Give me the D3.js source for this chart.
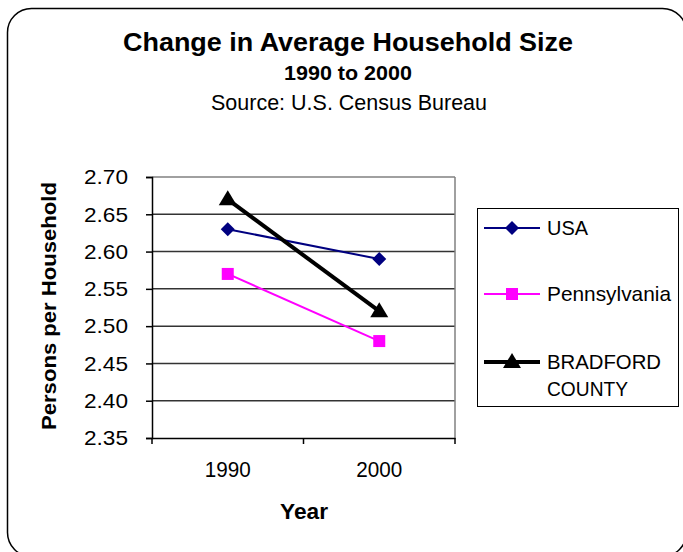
<!DOCTYPE html>
<html>
<head>
<meta charset="utf-8">
<script src="https://cdn.jsdelivr.net/npm/d3@7"></script>
<style>
  body { margin: 0; background: #fff; }
  svg text { font-family: "Liberation Sans", Arial, sans-serif; }
</style>
</head>
<body>
<script>
const years = ["1990", "2000"];
const usa = [2.63, 2.59];
const pennsylvania = [2.57, 2.48];
const bradford = [2.67, 2.52];
const yTicks = [2.35, 2.40, 2.45, 2.50, 2.55, 2.60, 2.65, 2.70];

const series = [
    {name: ["USA"], lens: [41], values: usa, colour: "#000080", width: 2, marker: "diamond"},
    {name: ["Pennsylvania"], lens: [124], values: pennsylvania, colour: "#FF00FF", width: 2, marker: "square"},
    {name: ["BRADFORD", "COUNTY"], lens: [114, 81], values: bradford, colour: "#000000", width: 4, marker: "triangle"}
];

const width = 683, height = 552;
const plot = {left: 152, right: 455, top: 177, bottom: 438};

const svg = d3.select("body").append("svg")
    .attr("width", width)
    .attr("height", height);

// outer rounded frame
svg.append("rect")
    .attr("x", 7.5).attr("y", 8.5)
    .attr("width", 679).attr("height", 548)
    .attr("rx", 24).attr("ry", 24)
    .attr("fill", "#fff")
    .attr("stroke", "#000")
    .attr("stroke-width", 1.5);

// titles
svg.append("text")
    .attr("x", 348).attr("y", 51)
    .attr("text-anchor", "middle")
    .attr("textLength", 450).attr("lengthAdjust", "spacingAndGlyphs")
    .style("font-size", "26px").style("font-weight", "bold")
    .text("Change in Average Household Size");
svg.append("text")
    .attr("x", 348).attr("y", 80)
    .attr("text-anchor", "middle")
    .attr("textLength", 128).attr("lengthAdjust", "spacingAndGlyphs")
    .style("font-size", "21px").style("font-weight", "bold")
    .text("1990 to 2000");
svg.append("text")
    .attr("x", 349).attr("y", 110)
    .attr("text-anchor", "middle")
    .attr("textLength", 276).attr("lengthAdjust", "spacingAndGlyphs")
    .style("font-size", "22px")
    .text("Source: U.S. Census Bureau");

const x = d3.scaleBand()
    .domain(years)
    .range([plot.left, plot.right])
    .padding(0);

const y = d3.scaleLinear()
    .domain([2.35, 2.70])
    .range([plot.bottom, plot.top]);

// gridlines
svg.append("g")
    .selectAll("line")
    .data(yTicks.slice(1))
    .join("line")
    .attr("x1", plot.left).attr("x2", plot.right)
    .attr("y1", d => y(d)).attr("y2", d => y(d))
    .attr("stroke", d => d === 2.70 ? "#808080" : "#333")
    .attr("stroke-width", 1.5);

// right border of plot
svg.append("line")
    .attr("x1", plot.right).attr("x2", plot.right)
    .attr("y1", plot.top).attr("y2", plot.bottom)
    .attr("stroke", "#808080").attr("stroke-width", 1.5);

// y axis
const yAxis = svg.append("g")
    .attr("transform", `translate(${plot.left}, 0)`)
    .call(d3.axisLeft(y).tickValues(yTicks).tickFormat(d3.format(".2f")).tickSize(6).tickPadding(18));
yAxis.select(".domain").attr("stroke", "#000").attr("stroke-width", 1.5);
yAxis.selectAll(".tick line").attr("stroke", "#000").attr("stroke-width", 1.5);
yAxis.selectAll("text")
    .style("font-size", "21px").attr("fill", "#000")
    .attr("textLength", 44).attr("lengthAdjust", "spacingAndGlyphs")
    .attr("font-family", null);

// x axis
const xAxis = svg.append("g")
    .attr("transform", `translate(0, ${plot.bottom})`)
    .call(d3.axisBottom(x).tickSize(0).tickPadding(23));
xAxis.select(".domain").attr("stroke", "#000").attr("stroke-width", 1.5);
xAxis.selectAll("text")
    .style("font-size", "22px").attr("fill", "#000")
    .attr("textLength", 46).attr("lengthAdjust", "spacingAndGlyphs")
    .attr("font-family", null);
// x tick marks sit between categories
xAxis.selectAll(".between")
    .data([plot.left, (plot.left + plot.right) / 2, plot.right])
    .join("line")
    .attr("x1", d => d).attr("x2", d => d)
    .attr("y1", 0).attr("y2", 6)
    .attr("stroke", "#000").attr("stroke-width", 1.5);

// axis titles
svg.append("text")
    .attr("transform", "translate(56, 306) rotate(-90)")
    .attr("text-anchor", "middle")
    .attr("textLength", 248).attr("lengthAdjust", "spacingAndGlyphs")
    .style("font-size", "20px").style("font-weight", "bold")
    .text("Persons per Household");
svg.append("text")
    .attr("x", 304).attr("y", 519)
    .attr("text-anchor", "middle")
    .attr("textLength", 48).attr("lengthAdjust", "spacingAndGlyphs")
    .style("font-size", "22px").style("font-weight", "bold")
    .text("Year");

const cx = d => x(d) + x.bandwidth() / 2;

function drawMarker(g, type, colour) {
    if (type === "diamond") {
        g.append("path").attr("d", "M0,-7L7,0L0,7L-7,0Z").attr("fill", colour);
    } else if (type === "square") {
        g.append("rect").attr("x", -6).attr("y", -6).attr("width", 12).attr("height", 12).attr("fill", colour);
    } else {
        g.append("path").attr("d", "M0,-9L9,6L-9,6Z").attr("fill", colour);
    }
}

// lines and markers
const line = d3.line()
    .x((d, i) => cx(years[i]))
    .y(d => y(d));

series.forEach(s => {
    svg.append("path")
        .datum(s.values)
        .attr("d", line)
        .attr("fill", "none")
        .attr("stroke", s.colour)
        .attr("stroke-width", s.width);
    s.values.forEach((v, i) => {
        const g = svg.append("g").attr("transform", `translate(${cx(years[i])}, ${y(v)})`);
        drawMarker(g, s.marker, s.colour);
    });
});

// legend
const legend = svg.append("g");
legend.append("rect")
    .attr("x", 477.5).attr("y", 208.5)
    .attr("width", 201).attr("height", 198)
    .attr("fill", "#fff")
    .attr("stroke", "#000").attr("stroke-width", 1);

const legendY = [228, 294, 362];
series.forEach((s, i) => {
    const ly = legendY[i];
    legend.append("line")
        .attr("x1", 484).attr("x2", 540)
        .attr("y1", ly).attr("y2", ly)
        .attr("stroke", s.colour).attr("stroke-width", s.width);
    const g = legend.append("g").attr("transform", `translate(512, ${ly})`);
    drawMarker(g, s.marker, s.colour);
    s.name.forEach((t, j) => {
        legend.append("text")
            .attr("x", 547).attr("y", ly + 7 + j * 27)
            .attr("textLength", s.lens[j]).attr("lengthAdjust", "spacingAndGlyphs")
            .style("font-size", "21px")
            .text(t);
    });
});
</script>
</body>
</html>
